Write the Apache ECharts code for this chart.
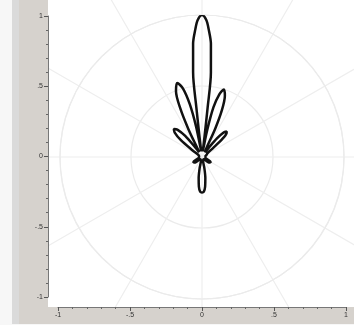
<!DOCTYPE html>
<html>
<head>
<meta charset="utf-8">
<script src="https://cdn.jsdelivr.net/npm/echarts@6/dist/echarts.min.js"></script>
<style>
  html, body { margin: 0; padding: 0; background: #fff; }
  #chart { width: 354px; height: 325px; }
</style>
</head>
<body>
<div id="chart"></div>
<script>
// radiation pattern: angle (deg, 0 = right, ccw) and radius
const patternAngles = [
  0, 20, 35,
  39, 41.5, 44, 46, 48.5, 51, 54, 57,
  63, 65, 67, 69.5, 72, 74.5, 77, 79, 81, 82,
  83, 83.5, 84, 85.5, 87, 88.2, 90, 91.8, 93, 94.5, 96, 96.5, 97, 98,
  99, 101, 103, 105.5, 108.5, 111.5, 114, 116, 118, 120,
  125, 128.5, 132, 135, 138, 141.5, 145, 150,
  180, 200, 210, 220, 230,
  255, 258, 261, 264, 267, 270, 273, 276, 279, 282, 285,
  310, 320, 330, 340, 360
];
const patternRadii = [
  0.02, 0.03, 0.05,
  0.1, 0.19, 0.24, 0.25, 0.23, 0.17, 0.08, 0.04,
  0.06, 0.22, 0.36, 0.46, 0.5, 0.46, 0.36, 0.2, 0.06, 0.04,
  0.15, 0.35, 0.6, 0.8, 0.9, 0.965, 1.0, 0.965, 0.9, 0.8, 0.6, 0.35, 0.15, 0.04,
  0.06, 0.22, 0.38, 0.5, 0.55, 0.5, 0.38, 0.22, 0.06, 0.04,
  0.08, 0.19, 0.26, 0.28, 0.26, 0.19, 0.08, 0.03,
  0.02, 0.03, 0.07, 0.06, 0.02,
  0.03, 0.08, 0.15, 0.21, 0.245, 0.25, 0.245, 0.21, 0.15, 0.08, 0.03,
  0.02, 0.06, 0.07, 0.03, 0.02
];
const axisTicks = [-1, -0.5, 0, 0.5, 1];
const tickText = ["-1", "-.5", "0", ".5", "1"];

const chart = echarts.init(document.getElementById("chart"));

function tickLabel(v) {
  const i = axisTicks.findIndex(t => Math.abs(t - v) < 1e-6);
  return i >= 0 ? tickText[i] : "";
}

const frameAxis = {
  type: "value",
  min: -1,
  max: 1,
  interval: 0.5,
  offset: 10,
  z: 60,
  axisLine: { show: true, onZero: false, lineStyle: { color: "#777", width: 1 } },
  axisTick: { show: true, length: 4, lineStyle: { color: "#555" } },
  minorTick: { show: true, splitNumber: 5, length: 2, lineStyle: { color: "#666" } },
  splitLine: { show: false },
  axisLabel: { fontSize: 7, color: "#333", margin: 5, formatter: tickLabel }
};

const option = {
  backgroundColor: "#fff",
  animation: false,
  grid: { left: 58, right: 8, top: 16, bottom: 28 },
  xAxis: Object.assign({}, frameAxis, { position: "bottom" }),
  yAxis: Object.assign({}, frameAxis, { position: "left" }),
  polar: [
    { center: [202, 157], radius: 142 },
    { center: [202, 157], radius: 230 }
  ],
  angleAxis: [
    {
      polarIndex: 0, type: "value", min: 0, max: 360, startAngle: 0, clockwise: false,
      axisLine: { show: true, lineStyle: { color: "#ebebeb", width: 1.2 } },
      axisTick: { show: false }, axisLabel: { show: false }, splitLine: { show: false }
    },
    {
      polarIndex: 1, type: "value", min: 0, max: 360, interval: 30, startAngle: 0, clockwise: false,
      axisLine: { show: false }, axisTick: { show: false }, axisLabel: { show: false },
      splitLine: { show: true, lineStyle: { color: "#eeeeee", width: 1.2 } }
    }
  ],
  radiusAxis: [
    {
      polarIndex: 0, min: 0, max: 1, interval: 0.5,
      axisLine: { show: false }, axisTick: { show: false }, axisLabel: { show: false },
      splitLine: { show: true, lineStyle: { color: "#ebebeb", width: 1.2 } }
    },
    {
      polarIndex: 1, min: 0, max: 1,
      axisLine: { show: false }, axisTick: { show: false }, axisLabel: { show: false },
      splitLine: { show: false }
    }
  ],
  graphic: [
    { type: "rect", z: 50, shape: { x: 0, y: 0, width: 12, height: 325 }, style: { fill: "#f7f7f7" } },
    { type: "rect", z: 50, shape: { x: 0, y: 324, width: 354, height: 1 }, style: { fill: "#f7f7f7" } },
    { type: "rect", z: 50, shape: { x: 12, y: 0, width: 36, height: 324 }, style: { fill: "#d6d2cd" } },
    { type: "rect", z: 50, shape: { x: 12, y: 0, width: 7, height: 324 }, style: { fill: "#dadada" } },
    { type: "rect", z: 50, shape: { x: 48, y: 307, width: 306, height: 17 }, style: { fill: "#d6d2cd" } }
  ],
  series: [
    {
      type: "line",
      coordinateSystem: "polar",
      polarIndex: 0,
      data: patternAngles.map((a, i) => [patternRadii[i], a]),
      showSymbol: false,
      smooth: 0.3,
      lineStyle: { color: "#111", width: 2.5 },
      z: 5
    }
  ]
};

chart.setOption(option);
</script>
</body>
</html>
